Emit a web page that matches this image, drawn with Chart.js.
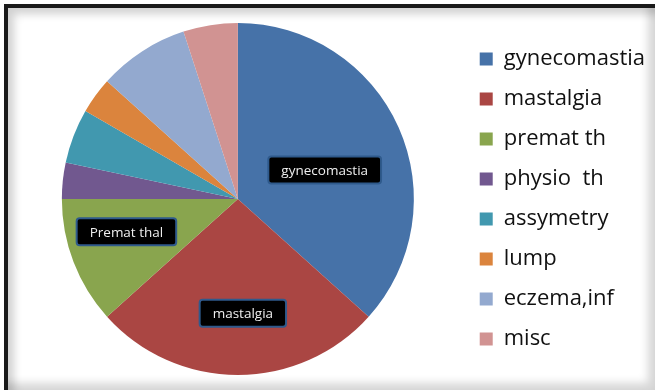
<!DOCTYPE html>
<html>
<head>
<meta charset="utf-8">
<script src="https://cdn.jsdelivr.net/npm/chart.js@4/dist/chart.umd.min.js"></script>
<style>
  html, body { margin: 0; padding: 0; background: #fff; }
  #frame {
    position: absolute; left: 4px; top: 4px; width: 651px; height: 386px;
    border-left: 4px solid #1a1a1a; border-top: 4px solid #1a1a1a;
    box-sizing: border-box;
    box-shadow: inset 6px 6px 8px rgba(0,0,0,0.18), inset -7px -7px 8px rgba(0,0,0,0.16);
  }
  #wrap { position: absolute; left: 0; top: 0; width: 655px; height: 390px; }
</style>
</head>
<body>
<div id="frame"></div>
<div id="wrap"><canvas id="pieChart" width="655" height="390"></canvas></div>
<script>
const categories = ['gynecomastia', 'mastalgia', 'premat th', 'physio  th', 'assymetry', 'lump', 'eczema,inf', 'misc'];
const counts = [22, 16, 7, 2, 3, 2, 5, 3];
const colors = ['#4672A8', '#AA4643', '#89A54E', '#71588F', '#4198AF', '#DB843D', '#93A9CF', '#D19392'];

// boxed labels written on three slices
const boxLabels = ['gynecomastia', 'mastalgia', 'Premat thal'];
const boxSlices = [0, 1, 2];
const boxRadius = [0.52, 0.65, 0.66];
const boxShift = [5.6, -2.5, 4.6];

const boxLabelPlugin = {
    id: 'boxLabels',
    afterDatasetsDraw(chart) {
        const ctx = chart.ctx;
        const meta = chart.getDatasetMeta(0);
        ctx.save();
        ctx.font = '13.5px "Open Sans"';
        ctx.textAlign = 'center';
        ctx.textBaseline = 'middle';
        boxLabels.forEach((text, i) => {
            const arc = meta.data[boxSlices[i]];
            const p = arc.getProps(['x', 'y', 'startAngle', 'endAngle', 'outerRadius'], true);
            const mid = (p.startAngle + p.endAngle) / 2 + boxShift[i] * Math.PI / 180;
            const r = p.outerRadius * boxRadius[i];
            const cx = p.x + Math.cos(mid) * r;
            const cy = p.y + Math.sin(mid) * r;
            const w = ctx.measureText(text).width + 26;
            const h = 27;
            ctx.fillStyle = '#000';
            ctx.strokeStyle = '#2f5a8c';
            ctx.lineWidth = 2;
            ctx.beginPath();
            ctx.roundRect(cx - w / 2, cy - h / 2, w, h, 3);
            ctx.fill();
            ctx.stroke();
            ctx.fillStyle = '#eeeeee';
            ctx.fillText(text, cx, cy + 1);
        });
        ctx.restore();
    }
};

new Chart(document.getElementById('pieChart').getContext('2d'), {
    type: 'pie',
    data: {
        labels: categories,
        datasets: [{
            data: counts,
            backgroundColor: colors,
            borderWidth: 0
        }]
    },
    options: {
        responsive: false,
        animation: false,
        layout: { padding: { left: 14, right: 0, top: 23, bottom: 15 } },
        plugins: {
            tooltip: { enabled: false },
            legend: {
                position: 'right',
                labels: {
                    boxWidth: 13,
                    boxHeight: 13,
                    padding: 18,
                    color: '#111',
                    font: { family: '"Open Sans"', size: 22 }
                }
            }
        }
    },
    plugins: [boxLabelPlugin]
});
</script>
</body>
</html>
